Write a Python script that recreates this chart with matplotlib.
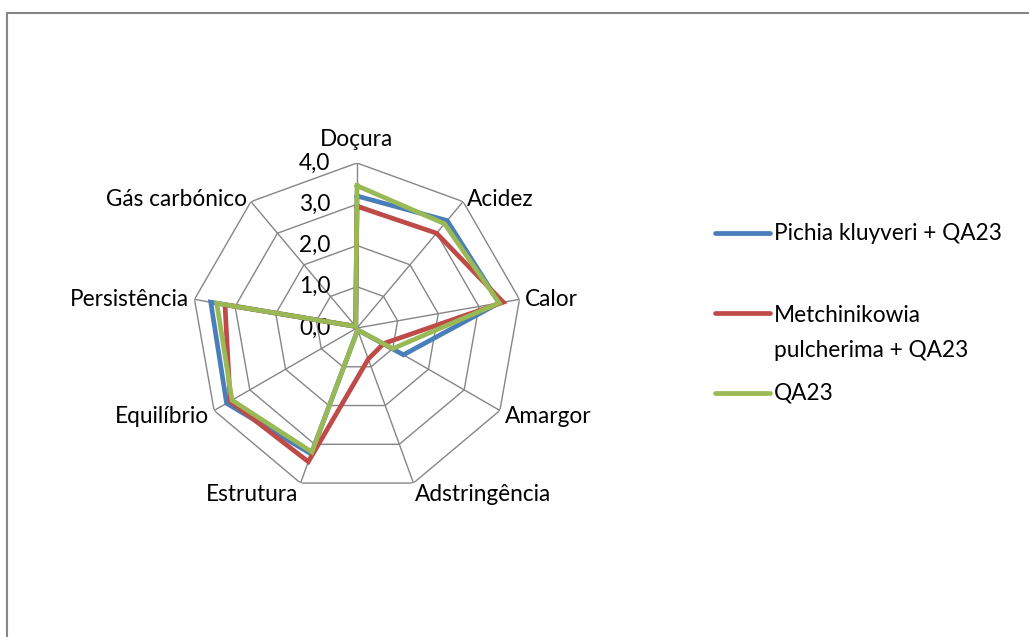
import matplotlib.pyplot as plt
import numpy as np
from matplotlib.patches import Rectangle
from matplotlib.lines import Line2D

categories = ["Doçura", "Acidez", "Calor", "Amargor", "Adstringência",
              "Estrutura", "Equilíbrio", "Persistência", "Gás carbónico"]
pichia = [3.2, 3.4, 3.5, 1.3, 0.05, 3.25, 3.65, 3.6, 0.05]
metch = [2.95, 3.0, 3.6, 0.75, 0.8, 3.45, 3.55, 3.25, 0.05]
qa23 = [3.45, 3.3, 3.5, 1.0, 0.05, 3.2, 3.5, 3.45, 0.05]
series_names = ["Pichia kluyveri + QA23", "Metchinikowia\npulcherima + QA23", "QA23"]
colors = ["#4A7EBB", "#BE4B48", "#98B954"]
rings = [0, 1, 2, 3, 4]
ring_labels = ["0,0", "1,0", "2,0", "3,0", "4,0"]

W, H = 1029, 637
plt.rcParams["font.family"] = ["Lato", "DejaVu Sans"]
FS = 16.3
fig = plt.figure(figsize=(W / 100, H / 100), dpi=100)
fig.patch.set_facecolor("white")

# chart area border (only left and top visible in the reference)
fig.add_artist(Rectangle((7 / W, -0.1), 1.2, (H - 13) / H + 0.1,
                         transform=fig.transFigure, fill=False,
                         edgecolor="#868686", lw=1.5))

cx, cy, R = 357, 328, 165
ax = fig.add_axes([(cx - R) / W, (H - cy - R) / H, 2 * R / W, 2 * R / H],
                  projection="polar")
ax.set_theta_zero_location("N")
ax.set_theta_direction(-1)
ax.set_ylim(0, 4)
ax.grid(False)
ax.spines["polar"].set_visible(False)
ax.set_xticks([])
ax.set_yticks([])
ax.patch.set_alpha(0)

n = len(categories)
theta = np.linspace(0, 2 * np.pi, n, endpoint=False)
theta_c = np.append(theta, theta[0])

# polygon grid
for r in rings[1:]:
    ax.plot(theta_c, [r] * (n + 1), color="#868686", lw=1.0, zorder=1)
for t in theta:
    ax.plot([t, t], [0, 4], color="#868686", lw=1.0, zorder=1)

# radial labels
for r, lab in zip(rings, ring_labels):
    ax.annotate(lab, xy=(0, r), xytext=(-19, 0), textcoords="offset points",
                ha="right", va="center", fontsize=FS)

# category labels
for t, lab in zip(theta, categories):
    s, c = np.sin(t), np.cos(t)
    ha = "center" if abs(s) < 0.2 else ("left" if s > 0 else "right")
    va = "center"
    dy = 0 if abs(c) < 0.3 else (-4.5 if c < 0 else 1.5)
    if abs(s) < 0.2:
        va = "bottom" if c > 0 else "top"
        dy = 9.5 if c > 0 else -4
    elif c < -0.9:
        va = "top"
        dy = -0.5
    ax.annotate(lab, xy=(t, 4), xytext=(4 * s, dy),
                textcoords="offset points", ha=ha, va=va, fontsize=FS)

lines = []
for vals, col, name in zip([pichia, metch, qa23], colors, series_names):
    v = np.append(vals, vals[0])
    ln, = ax.plot(theta_c, v, color=col, lw=3.4, solid_joinstyle="miter",
                  label=name, zorder=3)
    lines.append(ln)

# legend (Excel style: handle aligned with first text line)
leg_y = [233, 313, 393]
for ln, name, y in zip(lines, series_names, leg_y):
    yf = 1 - y / H
    fig.add_artist(Line2D([715 / W, 770 / W], [yf, yf], color=ln.get_color(),
                          lw=3.4, solid_capstyle="round",
                          transform=fig.transFigure))
    if "\n" in name:
        fig.text(774 / W, 1 - (y - 8) / H, name, ha="left", va="top",
                 fontsize=FS, linespacing=1.85)
    else:
        fig.text(774 / W, yf, name, ha="left", va="center", fontsize=FS)

fig.savefig("out.png", dpi=100)
